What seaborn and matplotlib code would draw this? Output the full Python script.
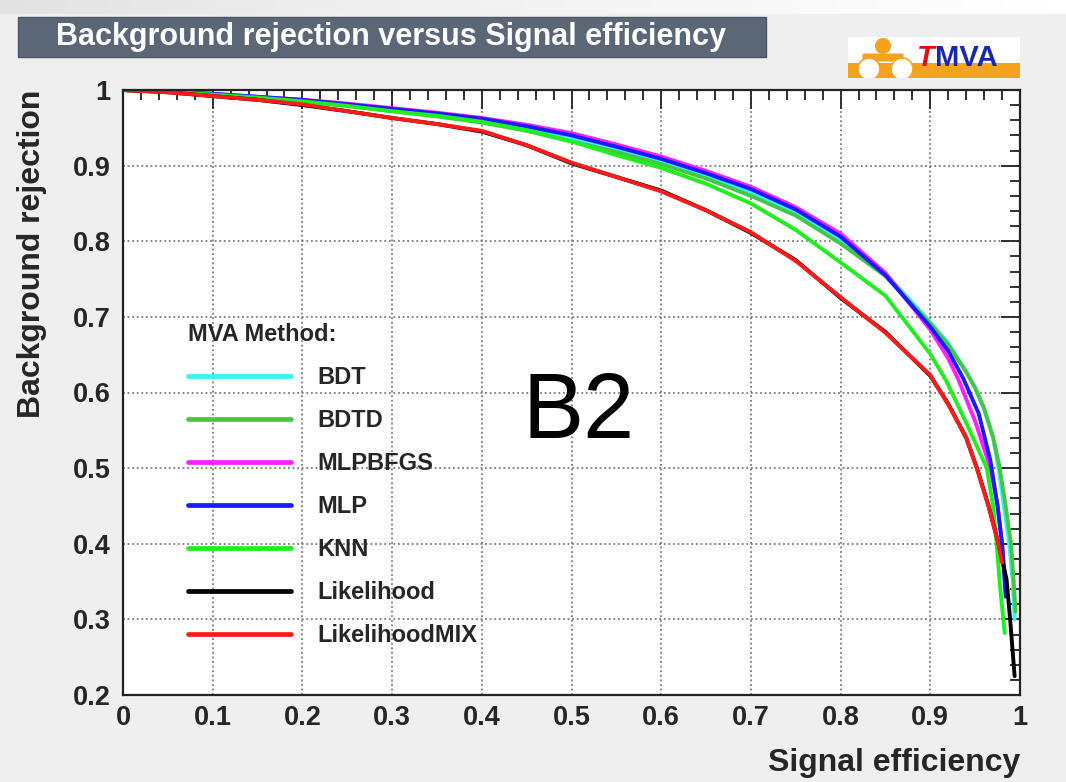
import numpy as np
import pandas as pd
import matplotlib
matplotlib.use("Agg")
import matplotlib.pyplot as plt
import seaborn as sns
from matplotlib.patches import Rectangle, Circle, FancyBboxPatch
from matplotlib.lines import Line2D
from matplotlib.ticker import MultipleLocator, FuncFormatter

# ROC curves: signal efficiency vs background rejection per MVA method
methods = ["BDT", "BDTD", "MLPBFGS", "MLP", "KNN", "Likelihood", "LikelihoodMIX"]
colors = ["#33f5f5", "#44c844", "#ff1eff", "#1a1aff", "#1fee1f", "#000000", "#ff1a1a"]

bdt_eff = [0, .05, .1, .15, .2, .25, .3, .35, .4, .45, .5, .55, .6, .65, .7, .75, .8, .85, .9,
           .92, .94, .95, .96, .97, .976, .982, .988, .992, .994]
bdt_rej = [1, .998, .994, .990, .986, .980, .973, .966, .958, .948, .935, .921, .905, .886, .864,
           .837, .800, .757, .693, .665, .628, .606, .578, .540, .500, .450, .400, .350, .300]

bdtd_eff = [0, .05, .1, .15, .2, .25, .3, .35, .4, .45, .5, .55, .6, .65, .7, .75, .8, .85, .9,
            .92, .94, .95, .96, .97, .977, .984, .990, .993, .995]
bdtd_rej = [1, .998, .994, .990, .985, .979, .972, .965, .957, .946, .932, .918, .902, .883, .860,
            .834, .797, .754, .691, .663, .627, .606, .579, .541, .503, .450, .400, .350, .310]

mlpbfgs_eff = [0, .05, .1, .15, .2, .25, .3, .35, .4, .45, .5, .55, .6, .65, .7, .75, .8, .85, .9,
               .92, .931, .95, .967, .975, .980, .983, .985]
mlpbfgs_rej = [1, .998, .995, .991, .987, .982, .976, .970, .963, .954, .943, .928, .912, .893,
               .872, .845, .810, .758, .683, .645, .618, .562, .500, .450, .400, .360, .335]

mlp_eff = [0, .05, .1, .15, .2, .25, .3, .35, .4, .45, .5, .55, .6, .65, .7, .75, .8, .85, .9,
           .92, .937, .954, .967, .975, .980, .984]
mlp_rej = [1, .998, .995, .991, .987, .981, .975, .969, .962, .952, .940, .925, .909, .890, .869,
           .842, .806, .755, .687, .655, .618, .572, .510, .450, .400, .330]

knn_eff = [0, .05, .1, .15, .2, .25, .3, .35, .4, .45, .5, .55, .6, .65, .7, .75, .8, .85, .9,
           .918, .94, .963, .970, .974, .978, .983]
knn_rej = [1, .998, .994, .990, .985, .979, .972, .966, .958, .947, .932, .914, .897, .876, .850,
           .815, .772, .728, .651, .615, .560, .500, .450, .400, .340, .282]

lik_eff = [0, .05, .1, .15, .2, .25, .3, .35, .4, .45, .5, .55, .6, .65, .7, .75, .8, .85, .9,
           .92, .94, .952, .965, .976, .985, .989, .994]
lik_rej = [1, .997, .992, .987, .980, .972, .963, .955, .945, .927, .903, .885, .867, .841, .811,
           .775, .725, .680, .622, .585, .540, .500, .450, .400, .353, .300, .225]

likmix_eff = [0, .05, .1, .15, .2, .25, .3, .35, .4, .45, .5, .55, .6, .65, .7, .75, .8, .85, .9,
              .92, .94, .952, .965, .976, .980]
likmix_rej = [1, .997, .992, .987, .981, .972, .963, .955, .946, .927, .904, .885, .866, .841, .812,
              .774, .726, .679, .623, .584, .541, .499, .449, .400, .375]

x_ticks = [0, 0.1, 0.2, 0.3, 0.4, 0.5, 0.6, 0.7, 0.8, 0.9, 1]
y_ticks = [0.2, 0.3, 0.4, 0.5, 0.6, 0.7, 0.8, 0.9, 1]

effs = [bdt_eff, bdtd_eff, mlpbfgs_eff, mlp_eff, knn_eff, lik_eff, likmix_eff]
rejs = [bdt_rej, bdtd_rej, mlpbfgs_rej, mlp_rej, knn_rej, lik_rej, likmix_rej]
df = pd.concat(
    [pd.DataFrame({"eff": e, "rej": r, "method": m}) for m, e, r in zip(methods, effs, rejs)],
    ignore_index=True,
)
palette = dict(zip(methods, colors))

sns.set_theme(style="white")
plt.rcParams["font.family"] = ["Liberation Sans", "DejaVu Sans"]

W, H = 1066, 782
fig = plt.figure(figsize=(W / 100, H / 100), dpi=100)
fig.patch.set_facecolor("#efefef")

# soft white band along the top edge
band = fig.add_axes([0, 1 - 14 / H, 1, 14 / H])
grad = np.linspace(0, 1, 400)
band.imshow(np.vstack([grad, grad]), aspect="auto", cmap="Greys_r", vmin=-4, vmax=1,
            extent=[0, 1, 0, 1], interpolation="bicubic")
band.axis("off")

ax = fig.add_axes([123 / W, 1 - 695 / H, 897 / W, 605 / H])
ax.set_facecolor("white")

sns.lineplot(data=df, x="eff", y="rej", hue="method", hue_order=methods, palette=palette,
             sort=False, estimator=None, linewidth=2.8, legend=False, ax=ax)

ax.set_xlim(0, 1)
ax.set_ylim(0.2, 1)
ax.set_xticks(x_ticks)
ax.set_yticks(y_ticks)
fmt = FuncFormatter(lambda v, p: f"{v:g}")
ax.xaxis.set_major_formatter(fmt)
ax.yaxis.set_major_formatter(fmt)
ax.xaxis.set_minor_locator(MultipleLocator(0.02))
ax.yaxis.set_minor_locator(MultipleLocator(0.02))
ax.tick_params(which="both", direction="in", top=True, right=True, color="#222222", width=1.3)
ax.tick_params(which="major", length=14)
ax.tick_params(which="minor", length=7)
ax.tick_params(axis="x", which="major", pad=7, labelsize=19.5)
ax.tick_params(axis="y", which="major", pad=9, labelsize=19.5)
for lab in ax.get_xticklabels() + ax.get_yticklabels():
    lab.set_fontweight("bold")
for sp in ax.spines.values():
    sp.set_linewidth(1.6)
    sp.set_color("#222222")
ax.grid(True, which="major", color="#666666", linestyle=(0, (1.2, 1.8)), linewidth=1.1)
ax.set_axisbelow(True)

ax.set_xlabel("Signal efficiency", fontsize=23, fontweight="bold", loc="right")
ax.xaxis.set_label_coords(1.0, -0.088)
ax.set_ylabel("Background rejection", fontsize=23, fontweight="bold", loc="top")
ax.yaxis.set_label_coords(-0.085, 1.0)

handles = [Line2D([], [], color=c, linewidth=3.4) for c in colors]
leg = ax.legend(handles, methods, title="MVA Method:", loc="upper left",
                bbox_to_anchor=(0.072, 0.615), frameon=False, borderpad=0, borderaxespad=0,
                prop={"size": 17, "weight": "bold"},
                title_fontproperties={"size": 17, "weight": "bold"},
                handlelength=4.4, handletextpad=1.1, labelspacing=0.85, alignment="left")

ax.text(0.508, 0.571, "B2", fontsize=66, ha="center", va="center", color="black",
        family=["Liberation Sans", "DejaVu Sans"])

# title box
fig.patches.append(Rectangle((18 / W, 1 - 57 / H), 748 / W, 40 / H, transform=fig.transFigure,
                             facecolor="#5b6677", edgecolor="#4a5565", linewidth=1, zorder=3))
fig.text(391 / W, 1 - 37 / H, "Background rejection versus Signal efficiency", color="white",
         fontsize=22, fontweight="bold", ha="center", va="center", zorder=4)

# TMVA logo
orange = "#f5a31d"
lg = fig.add_axes([848 / W, 1 - 78 / H, 172 / W, 41 / H])
lg.set_xlim(0, 172)
lg.set_ylim(0, 41)
lg.axis("off")
lg.add_patch(Rectangle((0, 0), 172, 41, facecolor="white", edgecolor="none"))
lg.add_patch(Rectangle((0, 0), 172, 15, facecolor=orange, edgecolor="none"))
lg.add_patch(Circle((35, 32), 8, facecolor=orange, edgecolor="none"))
lg.add_patch(FancyBboxPatch((16, 18), 38, 5, boxstyle="round,pad=1.5", facecolor=orange,
                            edgecolor="none"))
lg.add_patch(Circle((21, 9), 11, facecolor="white", edgecolor=orange, linewidth=1.2))
lg.add_patch(Circle((54, 9), 11, facecolor="white", edgecolor=orange, linewidth=1.2))
lg.add_patch(Rectangle((33, 0), 5, 15, facecolor=orange, edgecolor="none"))
lg.text(69, 20, "T", color="#e01010", fontsize=21, fontweight="bold", style="italic",
        ha="left", va="center")
lg.text(87, 20, "MVA", color="#1a2ab0", fontsize=21, fontweight="bold", ha="left", va="center")

fig.savefig("out.png", dpi=100, facecolor=fig.get_facecolor())
